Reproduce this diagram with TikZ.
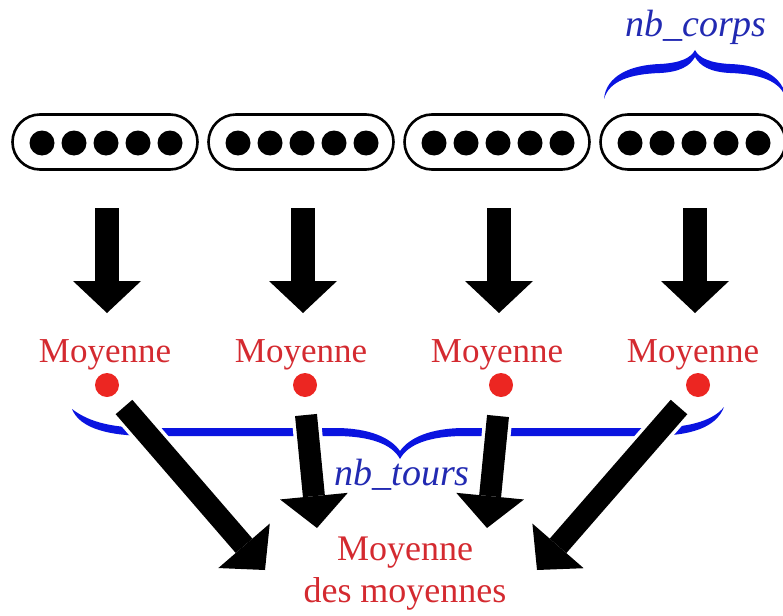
\documentclass[tikz,border=0pt]{standalone}
\usepackage{fontspec}
\setmainfont{Liberation Serif}
\usetikzlibrary{arrows.meta,shapes.misc,calc}
\definecolor{mred}{RGB}{212,42,48}
\definecolor{dred}{RGB}{236,38,34}
\definecolor{bblue}{RGB}{10,20,224}
\definecolor{tblue}{RGB}{34,42,178}
\begin{document}
\begin{tikzpicture}[x=1pt,y=-1pt,
  pill/.style={draw=black, line width=2.6pt, rounded rectangle, minimum width=185pt, minimum height=55pt, inner sep=0pt},
  bead/.style={circle, fill=black, minimum size=25pt, inner sep=0pt},
  rdot/.style={circle, fill=dred, minimum size=24pt, inner sep=0pt},
  redlabel/.style={text=mred, font=\fontsize{35}{40}\selectfont, inner sep=0pt, anchor=base},
  bluelabel/.style={text=tblue, font=\fontsize{38}{44}\selectfont\itshape, inner sep=0pt, anchor=base},
  bigarrow/.style={line width=24pt, -{Triangle[length=32pt,width=68pt,line width=0pt]}},
  lowarrow/.style={line width=22pt, -{Triangle[length=32pt,width=68pt,line width=0pt]}},
  halo/.style={white, line width=29pt}
]
\useasboundingbox (0,0) rectangle (783,615);

% boxes with beads, top arrows, labels, red dots
\foreach \i/\x/\dx in {1/105/107,2/301/305,3/497/501,4/693/698}{
  \node[pill] (b\i) at (\x,142) {};
  \foreach \k in {-2,-1,0,1,2}{
    \node[bead] (b\i d\k) at ({\x+1+32*\k},143) {};
  }
  \coordinate (t\i s) at (\x+2,208);
  \coordinate (t\i e) at (\x+2,313);
  \draw[bigarrow] (t\i s) -- (t\i e);
  \node[redlabel] (m\i) at (\x,362) {Moyenne};
  \node[rdot] (r\i) at (\dx,385) {};
}

% top brace nb_corps
\fill[bblue] (604,99) .. controls (606,76) and (630,65) .. (660,64)
  .. controls (680,63) and (691,58) .. (695,50)
  .. controls (699,58) and (710,63) .. (730,64)
  .. controls (760,65) and (784,76) .. (786,99)
  .. controls (781,81) and (760,74) .. (730,73)
  .. controls (710,72) and (700,66) .. (695,57)
  .. controls (690,66) and (680,72) .. (660,73)
  .. controls (630,74) and (609,81) .. (604,99) -- cycle;
\node[bluelabel] (nbc) at (696,37) {nb\_corps};

% bottom brace nb_tours
\fill[bblue] (72,409) .. controls (90,423) and (115,428) .. (150,428)
  -- (335,428) .. controls (370,428) and (391,438) .. (400,451)
  .. controls (409,438) and (430,428) .. (465,428)
  -- (650,428) .. controls (685,428) and (712,422) .. (724,407)
  .. controls (716,428) and (690,436) .. (650,436)
  -- (465,436) .. controls (430,436) and (408,444) .. (400,459)
  .. controls (392,444) and (370,436) .. (335,436)
  -- (150,436) .. controls (110,436) and (80,429) .. (72,409) -- cycle;
\node[bluelabel] (nbt) at (402,485) {nb\_tours};

% arrows to the mean of means
\coordinate (a1s) at (124,407); \coordinate (a1e) at (265,570);
\coordinate (a2s) at (306,415); \coordinate (a2e) at (317,528);
\coordinate (a3s) at (498,416); \coordinate (a3e) at (487,528);
\coordinate (a4s) at (679,407); \coordinate (a4e) at (537,570);
\foreach \i in {1,2,3,4}{
  \draw[halo] (a\i s) -- ($(a\i s)!0.45!(a\i e)$);
}
\foreach \i in {1,2,3,4}{
  \draw[lowarrow] (a\i s) -- (a\i e);
}

\node[text=mred, font=\fontsize{36}{42}\selectfont, align=center, inner sep=0pt, anchor=north] (mm) at (405,537) {Moyenne\\des moyennes};
\end{tikzpicture}
\end{document}
